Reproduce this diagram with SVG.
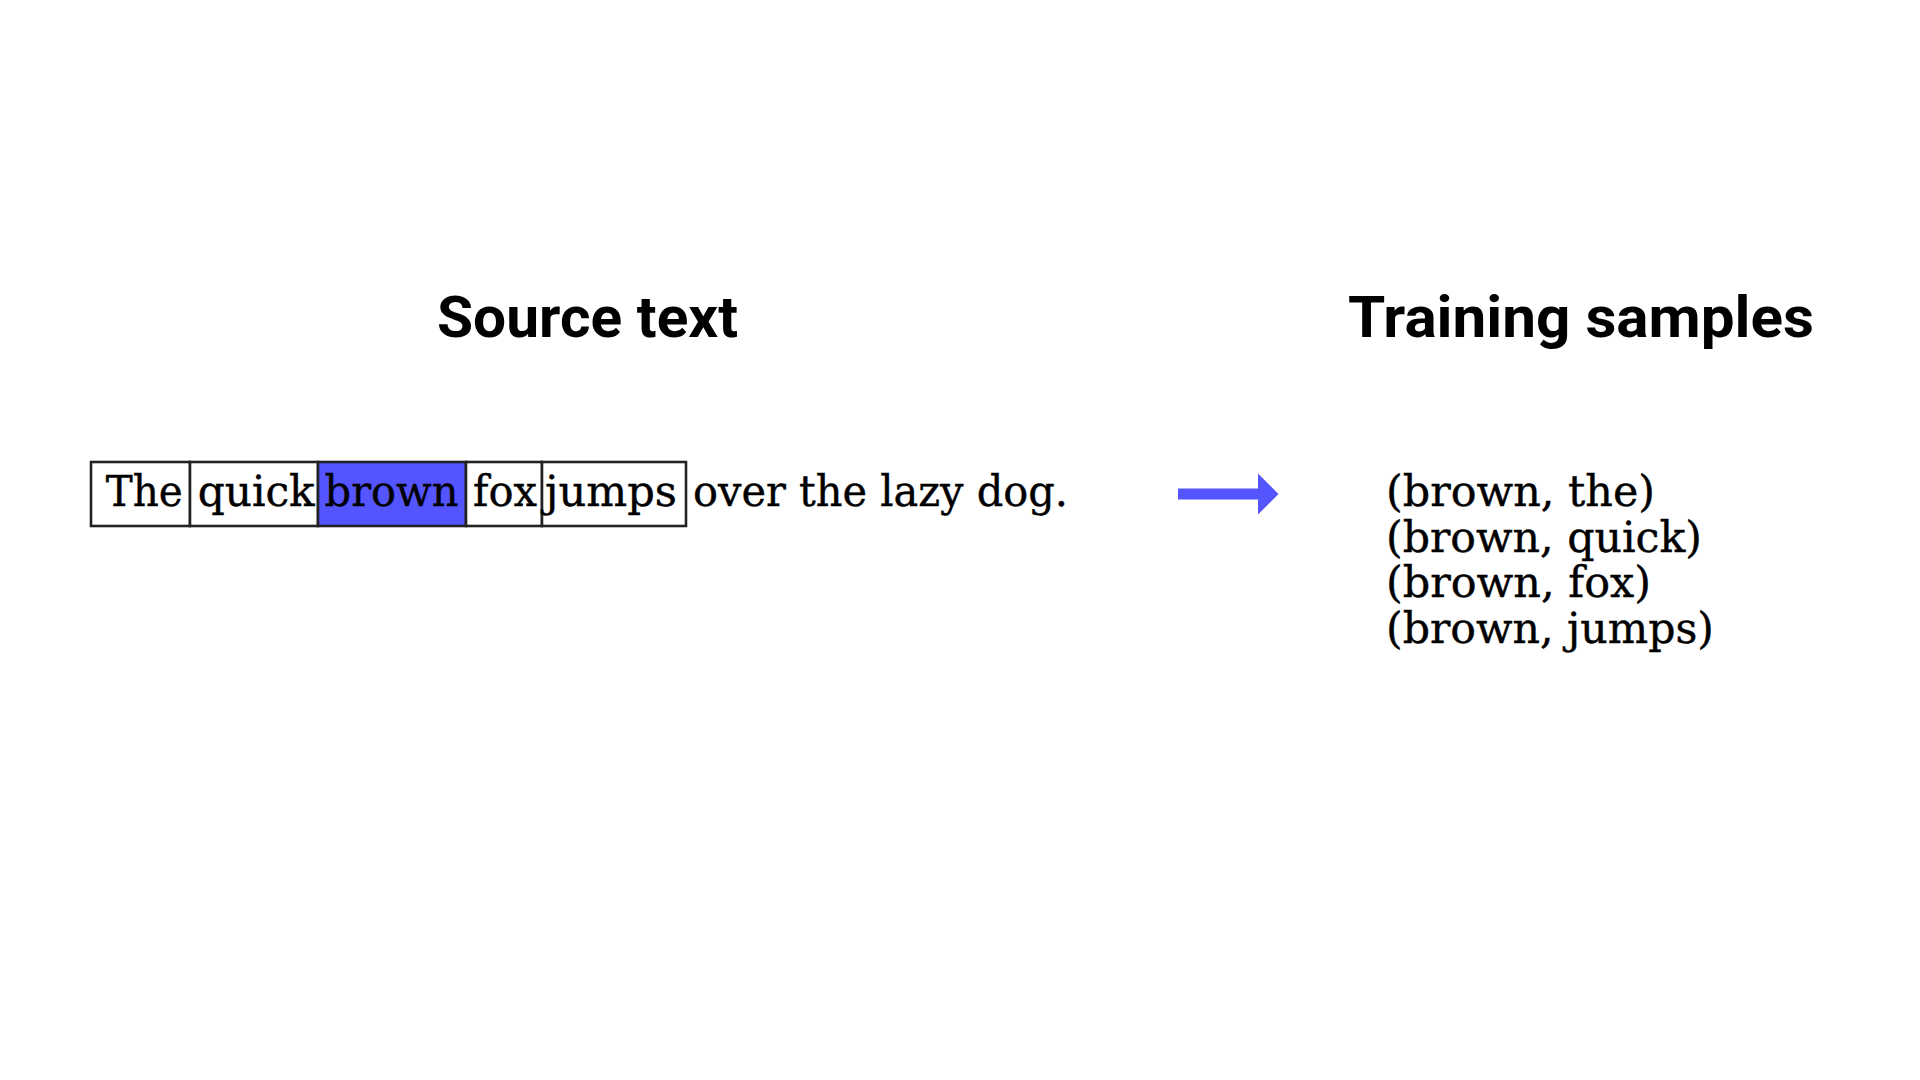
<svg xmlns="http://www.w3.org/2000/svg" width="1920" height="1080" viewBox="0 0 1920 1080">
  <style>
    .title { font-family: "Roboto", "DejaVu Sans", sans-serif; font-weight: bold; font-size: 58px; fill: #000; }
    .word { font-family: "DejaVu Serif", "Liberation Serif", serif; font-size: 42px; fill: #000; stroke: #000; stroke-width: 0.4; }
    .cell { fill: #fff; stroke: #222; stroke-width: 2.6; }
    .cell.hl { fill: #5555ff; }
    .arrow { fill: #5555ff; }
  </style>
  <rect x="0" y="0" width="1920" height="1080" fill="#fff"/>

  <g id="title-source">
    <text class="title" x="437" y="337" textLength="301" lengthAdjust="spacingAndGlyphs">Source text</text>
  </g>
  <g id="title-samples">
    <text class="title" x="1348" y="337" textLength="466" lengthAdjust="spacingAndGlyphs">Training samples</text>
  </g>

  <g id="source-sentence">
    <g id="cell-the">
      <rect class="cell" x="91" y="462" width="99" height="64"/>
      <text class="word" x="105.7" y="506" textLength="77" lengthAdjust="spacingAndGlyphs">The</text>
    </g>
    <g id="cell-quick">
      <rect class="cell" x="190" y="462" width="128" height="64"/>
      <text class="word" x="197.7" y="506" textLength="117" lengthAdjust="spacingAndGlyphs">quick</text>
    </g>
    <g id="cell-brown">
      <rect class="cell hl" x="318" y="462" width="148" height="64"/>
      <text class="word" x="324.5" y="506" textLength="134" lengthAdjust="spacingAndGlyphs">brown</text>
    </g>
    <g id="cell-fox">
      <rect class="cell" x="466" y="462" width="76" height="64"/>
      <text class="word" x="473" y="506" textLength="64" lengthAdjust="spacingAndGlyphs">fox</text>
    </g>
    <g id="cell-jumps">
      <rect class="cell" x="542" y="462" width="144" height="64"/>
      <text class="word" x="545" y="506" textLength="132" lengthAdjust="spacingAndGlyphs">jumps</text>
    </g>
    <g id="rest">
      <text class="word" x="693" y="506" textLength="375" lengthAdjust="spacingAndGlyphs">over the lazy dog.</text>
    </g>
  </g>

  <g id="connectors">
    <polygon class="arrow" points="1178,488.5 1258,488.5 1258,473.5 1278.5,494 1258,514.5 1258,499.5 1178,499.5"/>
  </g>

  <g id="samples">
    <text class="word" x="1386" y="506" textLength="269" lengthAdjust="spacingAndGlyphs">(brown, the)</text>
    <text class="word" x="1386" y="551.5" textLength="316" lengthAdjust="spacingAndGlyphs">(brown, quick)</text>
    <text class="word" x="1386" y="597" textLength="265" lengthAdjust="spacingAndGlyphs">(brown, fox)</text>
    <text class="word" x="1386" y="642.5" textLength="328" lengthAdjust="spacingAndGlyphs">(brown, jumps)</text>
  </g>
</svg>
